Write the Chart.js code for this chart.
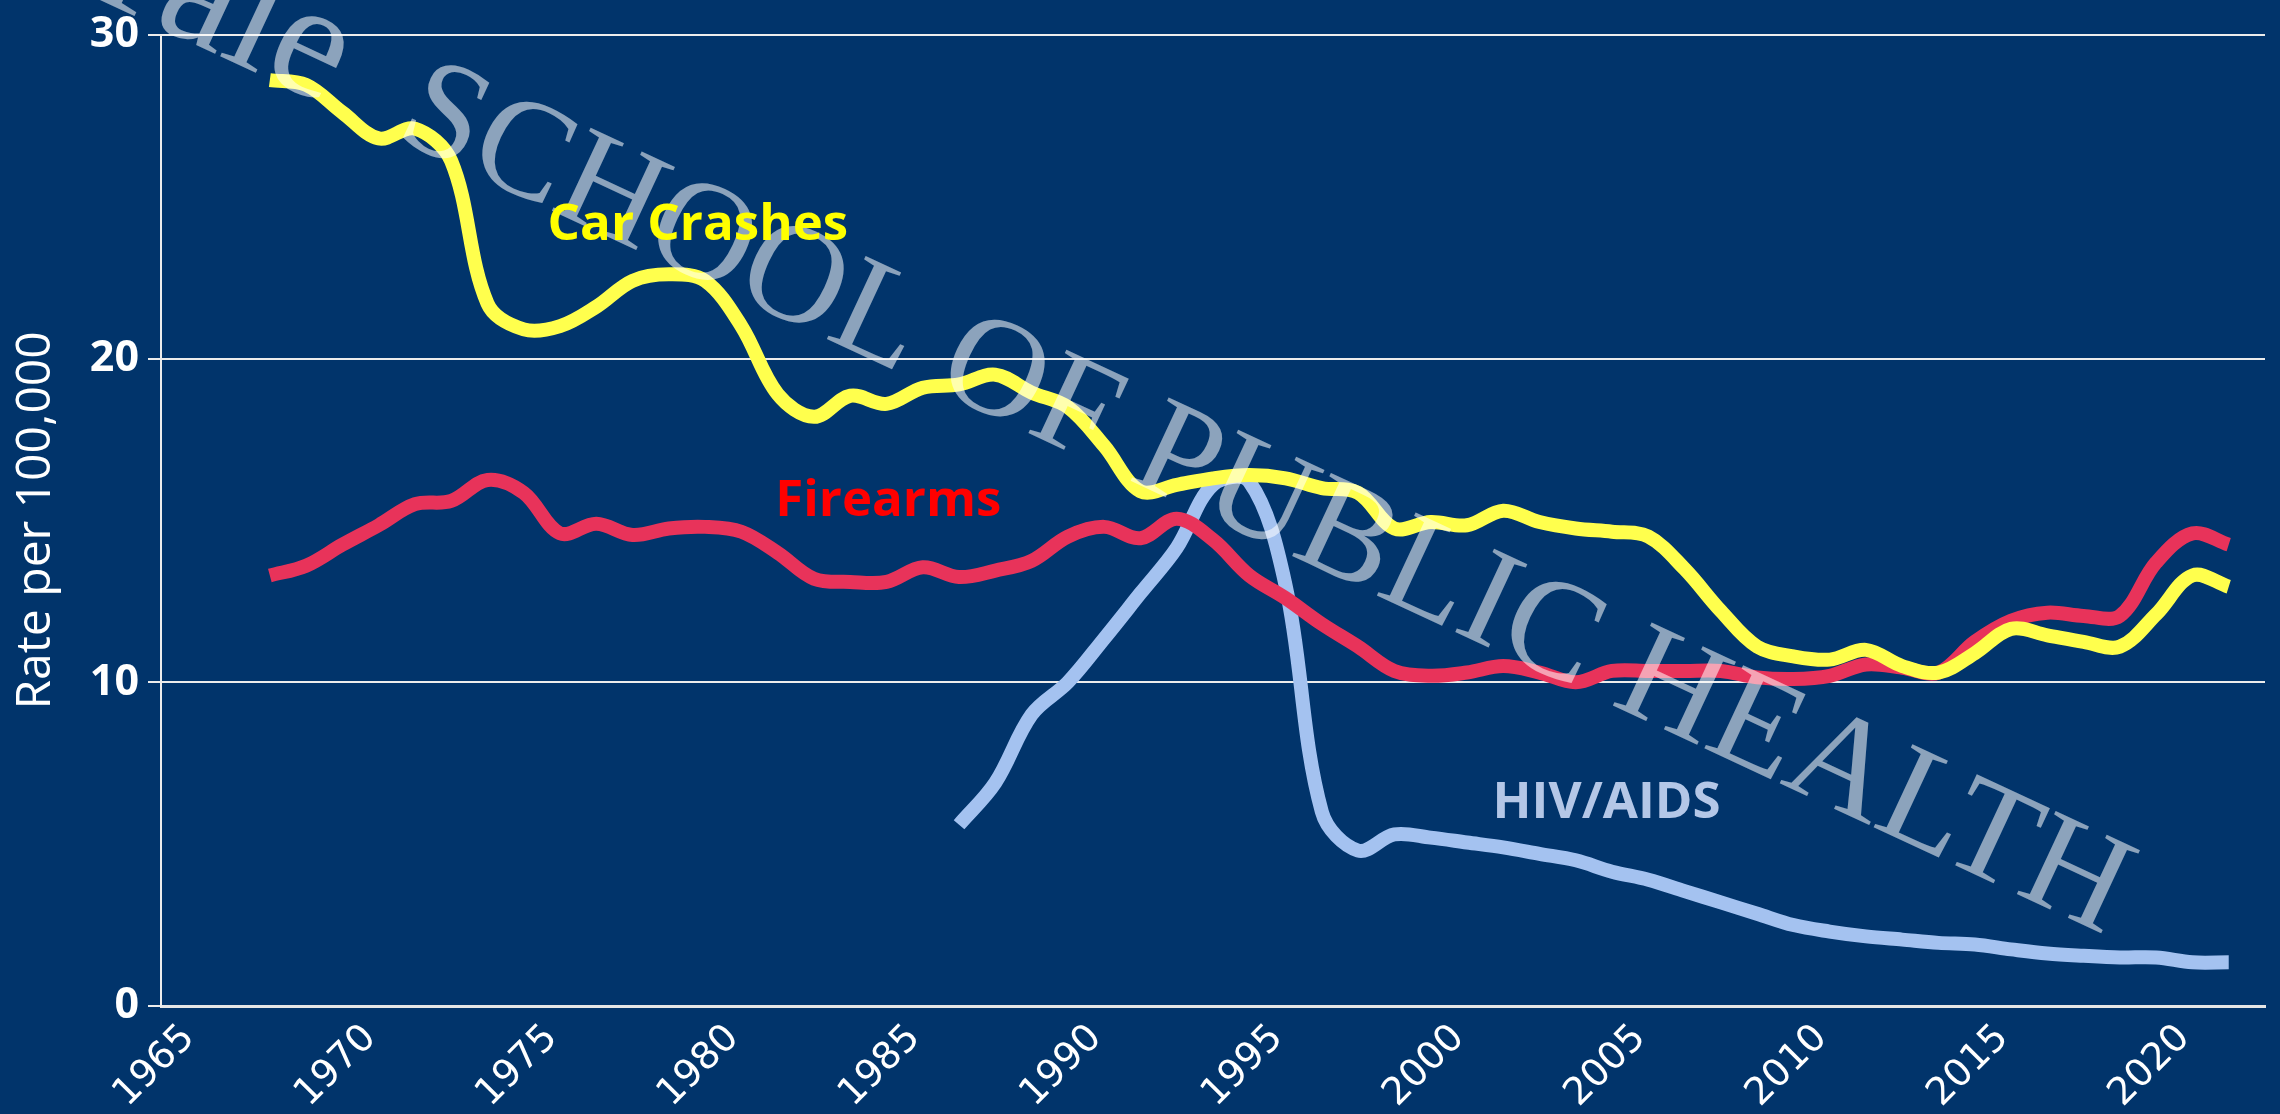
<!DOCTYPE html>
<html>
<head>
<meta charset="utf-8">
<script src="https://cdn.jsdelivr.net/npm/chart.js@4.4.1/dist/chart.umd.min.js"></script>
<style>
  html, body { margin: 0; padding: 0; background: #01346b; }
  #wrap { width: 2280px; height: 1114px; position: relative; }
</style>
</head>
<body>
<div id="wrap"><canvas id="graph"></canvas></div>
<script>
// years covered by car crash and firearm series
const years = [1968, 1969, 1970, 1971, 1972, 1973, 1974, 1975, 1976, 1977,
  1978, 1979, 1980, 1981, 1982, 1983, 1984, 1985, 1986, 1987,
  1988, 1989, 1990, 1991, 1992, 1993, 1994, 1995, 1996, 1997,
  1998, 1999, 2000, 2001, 2002, 2003, 2004, 2005, 2006, 2007,
  2008, 2009, 2010, 2011, 2012, 2013, 2014, 2015, 2016, 2017,
  2018, 2019, 2020, 2021, 2022];

const carCrashes = [28.6, 28.45, 27.6, 26.8, 27.1, 26.1, 21.7, 20.9, 21.0, 21.6,
  22.4, 22.6, 22.4, 21.0, 18.9, 18.2, 18.85, 18.6, 19.1, 19.2,
  19.5, 18.95, 18.5, 17.3, 15.9, 16.1, 16.3, 16.4, 16.3, 16.0,
  15.85, 14.75, 14.95, 14.85, 15.3, 14.95, 14.75, 14.65, 14.5, 13.5,
  12.2, 11.1, 10.8, 10.7, 11.0, 10.5, 10.3, 10.9, 11.65, 11.45,
  11.25, 11.1, 12.1, 13.3, 12.95];

const firearms = [13.3, 13.6, 14.25, 14.85, 15.5, 15.6, 16.25, 15.85, 14.6, 14.9,
  14.55, 14.75, 14.8, 14.65, 14.0, 13.2, 13.1, 13.1, 13.55, 13.25,
  13.45, 13.75, 14.5, 14.8, 14.45, 15.05, 14.4, 13.3, 12.6, 11.8,
  11.1, 10.35, 10.2, 10.3, 10.5, 10.3, 10.0, 10.35, 10.35, 10.35,
  10.35, 10.15, 10.1, 10.2, 10.55, 10.45, 10.3, 11.25, 11.9, 12.15,
  12.05, 12.05, 13.7, 14.6, 14.25];

// HIV/AIDS only reported from 1987
const hivYears = [1987, 1988, 1989, 1990, 1991, 1992, 1993, 1994, 1995, 1996,
  1997, 1998, 1999, 2000, 2001, 2002, 2003, 2004, 2005, 2006,
  2007, 2008, 2009, 2010, 2011, 2012, 2013, 2014, 2015, 2016,
  2017, 2018, 2019, 2020, 2021, 2022];
const hivAids = [5.6, 6.9, 9.0, 10.0, 11.35, 12.75, 14.15, 16.1, 16.2, 13.0,
  6.0, 4.8, 5.3, 5.2, 5.05, 4.9, 4.7, 4.5, 4.15, 3.9,
  3.55, 3.2, 2.85, 2.5, 2.3, 2.15, 2.05, 1.95, 1.9, 1.75,
  1.62, 1.55, 1.5, 1.5, 1.35, 1.35];

const yTicks = [0, 10, 20, 30];

// series name labels, placed in data units
const seriesLabels = [
  { text: "Car Crashes", x: 1979.8, y: 24.1, color: "#ffff00" },
  { text: "Firearms", x: 1985.05, y: 15.6, color: "#ff0000" },
  { text: "HIV/AIDS", x: 2004.85, y: 6.25, color: "#b4c7e7" },
];

const bg = "#01346b";

function toPoints(xs, ys) {
  return xs.map((x, i) => ({ x: x, y: ys[i] }));
}

const backgroundPlugin = {
  id: "bg",
  beforeDraw(chart) {
    const ctx = chart.ctx;
    ctx.save();
    ctx.fillStyle = bg;
    ctx.fillRect(0, 0, chart.width, chart.height);
    ctx.restore();
  },
};

// faded school name across the plot, "Yale" a bit bigger like the logo
const watermarkPlugin = {
  id: "watermark",
  afterDatasetsDraw(chart) {
    const ctx = chart.ctx;
    ctx.save();
    ctx.translate(2105, 935);
    ctx.rotate((25 * Math.PI) / 180);
    ctx.fillStyle = "rgba(255,255,255,0.55)";
    ctx.textBaseline = "alphabetic";
    ctx.font = "140px 'Liberation Serif'";
    ctx.textAlign = "right";
    const caps = "SCHOOL OF PUBLIC HEALTH";
    ctx.fillText(caps, 0, 0);
    const gap = ctx.measureText(caps + " ").width + 40;
    ctx.font = "165px 'Liberation Serif'";
    ctx.fillText("Yale", -gap, 0);
    ctx.restore();
  },
};

const labelPlugin = {
  id: "seriesLabels",
  afterDraw(chart) {
    const ctx = chart.ctx;
    const xs = chart.scales.x;
    const ys = chart.scales.y;
    ctx.save();
    ctx.font = "bold 51px 'Open Sans'";
    ctx.textAlign = "center";
    ctx.textBaseline = "middle";
    seriesLabels.forEach((l) => {
      ctx.fillStyle = l.color;
      ctx.fillText(l.text, xs.getPixelForValue(l.x), ys.getPixelForValue(l.y));
    });
    ctx.restore();
  },
};

const ctx = document.getElementById("graph").getContext("2d");
new Chart(ctx, {
  type: "line",
  data: {
    datasets: [
      {
        label: "Car Crashes",
        data: toPoints(years, carCrashes),
        borderColor: "#ffff4d",
        borderWidth: 14,
        pointRadius: 0,
        tension: 0.35,
        fill: false,
      },
      {
        label: "Firearms",
        data: toPoints(years, firearms),
        borderColor: "#e8335a",
        borderWidth: 14,
        pointRadius: 0,
        tension: 0.35,
        fill: false,
      },
      {
        label: "HIV/AIDS",
        data: toPoints(hivYears, hivAids),
        borderColor: "#a4c2f0",
        borderWidth: 14,
        pointRadius: 0,
        tension: 0.35,
        fill: false,
      },
    ],
  },
  options: {
    responsive: true,
    maintainAspectRatio: false,
    animation: false,
    layout: { padding: { top: 28, right: 15, left: 0, bottom: 0 } },
    plugins: {
      legend: { display: false },
      tooltip: { enabled: false },
    },
    scales: {
      x: {
        type: "linear",
        min: 1965,
        max: 2023,
        afterFit(scale) {
          scale.height = 108;
        },
        grid: { display: false },
        border: { display: true, color: "#e6e6e6", width: 3 },
        ticks: {
          stepSize: 5,
          includeBounds: false,
          maxRotation: 45,
          minRotation: 45,
          padding: 2,
          labelOffset: 28,
          color: "#ffffff",
          font: { family: "'DejaVu Sans'", size: 38 },
          callback: (v) => String(v),
        },
      },
      y: {
        min: 0,
        max: 30,
        afterFit(scale) {
          scale.width = 161;
        },
        afterBuildTicks(scale) {
          scale.ticks = yTicks.map((v) => ({ value: v }));
        },
        grid: { color: "#ececec", lineWidth: 2, tickLength: 13, drawTicks: true },
        border: { display: true, color: "#ececec", width: 2 },
        ticks: {
          padding: 9,
          color: "#ffffff",
          font: { family: "'Open Sans'", size: 43, weight: "bold" },
        },
        title: {
          display: true,
          text: "Rate per 100,000",
          color: "#ffffff",
          font: { family: "'Open Sans'", size: 48 },
          padding: { top: 8, bottom: 0 },
        },
      },
    },
  },
  plugins: [backgroundPlugin, watermarkPlugin, labelPlugin],
});
</script>
</body>
</html>
